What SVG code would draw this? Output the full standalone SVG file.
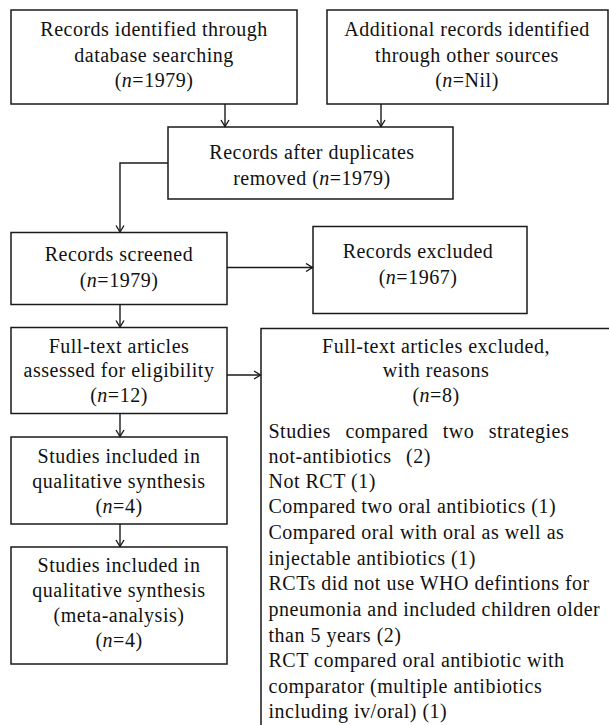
<svg xmlns="http://www.w3.org/2000/svg" width="609" height="725" viewBox="0 0 609 725">
<style>
.box{fill:#fff;stroke:#1a1a1a;stroke-width:1.5}
.t{font-family:"Liberation Serif","Times New Roman",serif;font-size:20px;letter-spacing:0.5px;fill:#111}
.c{text-anchor:middle}
.conn{fill:none;stroke:#1a1a1a;stroke-width:1.4}
</style>
<defs>
<marker id="arr" markerUnits="userSpaceOnUse" markerWidth="10" markerHeight="10" viewBox="0 0 10 10" refX="8" refY="5" orient="auto">
<path d="M1.5,1 L8,5 L1.5,9" fill="none" stroke="#1a1a1a" stroke-width="1.4"/>
</marker>
</defs>
<rect width="609" height="725" fill="#fff"/>
<g id="n1">
<rect class="box" x="11" y="10" width="286" height="94"/>
<text class="t c" x="154" y="36">Records identified through</text>
<text class="t c" x="154" y="61.5">database searching</text>
<text class="t c" x="154" y="87">(<tspan font-style="italic">n</tspan>=1979)</text>
</g>
<g id="n2">
<rect class="box" x="327" y="10" width="281" height="94"/>
<text class="t c" x="467" y="36">Additional records identified</text>
<text class="t c" x="467" y="61.5">through other sources</text>
<text class="t c" x="467" y="87">(<tspan font-style="italic">n</tspan>=Nil)</text>
</g>
<g id="n3">
<rect class="box" x="168" y="127" width="285" height="72"/>
<text class="t c" x="312" y="159">Records after duplicates</text>
<text class="t c" x="312" y="184.5">removed (<tspan font-style="italic">n</tspan>=1979)</text>
</g>
<g id="n4">
<rect class="box" x="11" y="232.5" width="216" height="72"/>
<text class="t c" x="119" y="260.7">Records screened</text>
<text class="t c" x="119" y="286.5">(<tspan font-style="italic">n</tspan>=1979)</text>
</g>
<g id="n5">
<rect class="box" x="313" y="226.5" width="214" height="87"/>
<text class="t c" x="418" y="258.3">Records excluded</text>
<text class="t c" x="418" y="283.5">(<tspan font-style="italic">n</tspan>=1967)</text>
</g>
<g id="n6">
<rect class="box" x="11" y="327.5" width="216" height="86"/>
<text class="t c" x="119" y="352.7">Full-text articles</text>
<text class="t c" x="119" y="377">assessed for eligibility</text>
<text class="t c" x="119" y="401.7">(<tspan font-style="italic">n</tspan>=12)</text>
</g>
<g id="n7">
<rect class="box" x="261" y="328.5" width="360" height="420"/>
<text class="t c" x="436" y="352.7">Full-text articles excluded,</text>
<text class="t c" x="436" y="377">with reasons</text>
<text class="t c" x="436" y="401.7">(<tspan font-style="italic">n</tspan>=8)</text>
<text class="t" x="268.5" y="438.3" word-spacing="9">Studies compared two strategies</text>
<text class="t" x="268.5" y="462.7" word-spacing="9">not-antibiotics (2)</text>
<text class="t" x="268.5" y="488.3">Not RCT (1)</text>
<text class="t" x="268.5" y="513.3">Compared two oral antibiotics (1)</text>
<text class="t" x="268.5" y="539.3">Compared oral with oral as well as</text>
<text class="t" x="268.5" y="565">injectable antibiotics (1)</text>
<text class="t" x="268.5" y="590">RCTs did not use WHO defintions for</text>
<text class="t" x="268.5" y="615.7">pneumonia and included children older</text>
<text class="t" x="268.5" y="641.7">than 5 years (2)</text>
<text class="t" x="268.5" y="666.7">RCT compared oral antibiotic with</text>
<text class="t" x="268.5" y="692.7">comparator (multiple antibiotics</text>
<text class="t" x="268.5" y="718.3">including iv/oral) (1)</text>
</g>
<g id="n8">
<rect class="box" x="11" y="437" width="216" height="87"/>
<text class="t c" x="119" y="462.7">Studies included in</text>
<text class="t c" x="119" y="488.3">qualitative synthesis</text>
<text class="t c" x="119" y="513.3">(<tspan font-style="italic">n</tspan>=4)</text>
</g>
<g id="n9">
<rect class="box" x="11" y="547" width="216" height="117"/>
<text class="t c" x="119" y="571.7">Studies included in</text>
<text class="t c" x="119" y="596.7">qualitative synthesis</text>
<text class="t c" x="119" y="621.7">(meta-analysis)</text>
<text class="t c" x="119" y="646.7">(<tspan font-style="italic">n</tspan>=4)</text>
</g>
<g id="connectors">
<path class="conn" d="M225,104 V126.5" marker-end="url(#arr)"/>
<path class="conn" d="M381,104 V126.5" marker-end="url(#arr)"/>
<path class="conn" d="M168,163 H120 V232" marker-end="url(#arr)"/>
<path class="conn" d="M227,267.5 H312.5" marker-end="url(#arr)"/>
<path class="conn" d="M120,304.5 V327" marker-end="url(#arr)"/>
<path class="conn" d="M227,375 H260.5" marker-end="url(#arr)"/>
<path class="conn" d="M120,413.5 V436.5" marker-end="url(#arr)"/>
<path class="conn" d="M120,524 V546.5" marker-end="url(#arr)"/>
</g>
</svg>
